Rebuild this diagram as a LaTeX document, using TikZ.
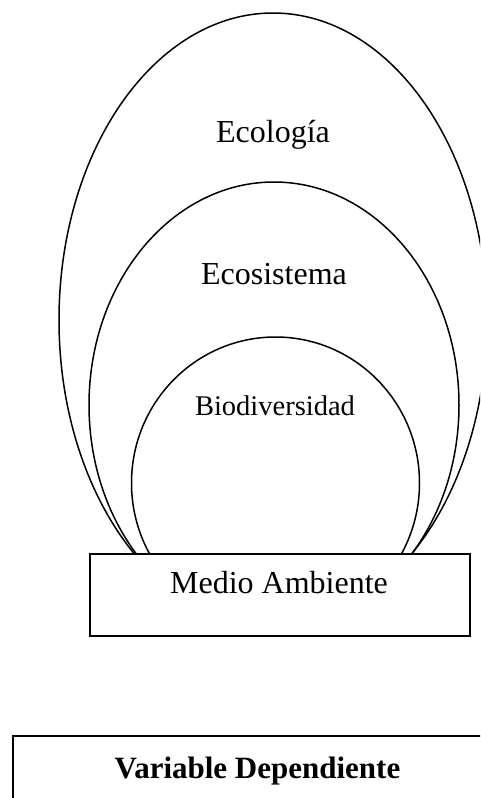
\documentclass[tikz,border=0pt]{standalone}
\usepackage{fontspec}
\setmainfont{Liberation Serif}
\begin{document}
\begin{tikzpicture}[x=1pt,y=-1pt,
  ring/.style={draw=black,line width=1.5pt},
  boxstyle/.style={draw=black,fill=white,line width=1.5pt,inner sep=0pt},
  lbl/.style={anchor=base,inner sep=0pt,font=\fontsize{32}{38}\selectfont}]
\useasboundingbox (0,0) rectangle (480,798);
\clip (0,0) rectangle (480,798);
\begin{scope}
  \clip (0,0) rectangle (480,553);
  \draw[ring] (273,320) ellipse [x radius=214pt, y radius=307pt];
  \draw[ring] (274,405) ellipse [x radius=185pt, y radius=223pt];
  \draw[ring] (275.5,483) ellipse [x radius=144pt, y radius=146pt];
\end{scope}
\node[lbl] (eco) at (273,142) {Ecología};
\node[lbl] (ecs) at (274,284) {Ecosistema};
\node[lbl,font=\fontsize{28.5}{34}\selectfont] (bio) at (275,415) {Biodiversidad};
\node[boxstyle,minimum width=380pt,minimum height=82pt,anchor=north west] (mabox) at (89,553) {};
\node[lbl] (ma) at (279,593) {Medio Ambiente};
\node[boxstyle,minimum width=520pt,minimum height=100pt,anchor=north west] (vdbox) at (12,735) {};
\node[lbl,font=\fontsize{31}{37}\selectfont\bfseries] (vd) at (257.5,778) {Variable Dependiente};
\end{tikzpicture}
\end{document}
